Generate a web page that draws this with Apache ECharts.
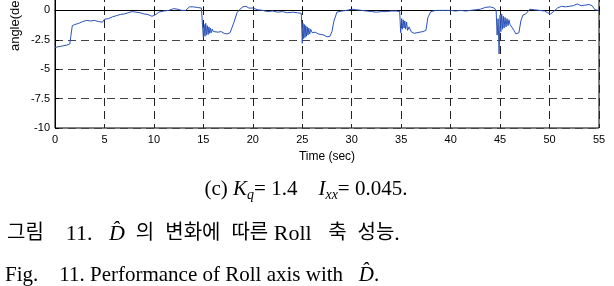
<!DOCTYPE html>
<html>
<head>
<meta charset="utf-8">
<script src="https://cdn.jsdelivr.net/npm/echarts@6/dist/echarts.min.js"></script>
<style>
  html, body { margin: 0; padding: 0; background: #fff; }
  #chart { width: 614px; height: 286px; }
</style>
</head>
<body>
<div id="chart"></div>
<script>
// roll angle response
const timeSec = [
  0, 0.3, 0.6, 0.9, 1.2, 1.5, 1.6, 1.75, 2.0, 2.4, 2.8, 3.2, 3.6, 4.0, 4.4, 4.8,
  5.0, 5.4, 5.8, 6.2, 6.6, 7.0, 7.4, 7.8, 8.2, 8.6, 9.0, 9.4, 9.8, 10.1, 10.5,
  11.0, 11.5, 12.0, 12.4, 12.8, 13.2, 13.6, 14.0, 14.4, 14.8, 14.95,
  15.0, 15.08, 15.16, 15.24, 15.32, 15.4, 15.48, 15.56, 15.64, 15.72, 15.8, 15.9,
  16.0, 16.2, 16.5, 16.8, 17.1, 17.4, 17.7, 17.9, 18.1, 18.4, 18.7, 19.0, 19.3,
  19.6, 20.0, 20.5, 21.0, 21.5, 22.0, 22.5, 23.0, 23.5, 24.0, 24.5, 24.9,
  25.0, 25.07, 25.14, 25.21, 25.28, 25.35, 25.42, 25.5, 25.58, 25.66, 25.75, 25.85,
  26.0, 26.3, 26.6, 26.9, 27.2, 27.5, 27.8, 28.0, 28.2, 28.5, 29.0, 29.5, 30.0,
  30.5, 31.0, 31.5, 32.0, 32.5, 33.0, 33.5, 34.0, 34.5, 34.85,
  34.95, 35.05, 35.13, 35.21, 35.29, 35.37, 35.45, 35.55, 35.65, 35.8, 36.0, 36.3,
  36.6, 36.9, 37.2, 37.5, 37.7, 38.0, 38.5, 39.0, 39.5, 40.0, 40.5, 41.0, 41.5,
  42.0, 42.5, 43.0, 43.5, 44.0, 44.4, 44.6,
  44.7, 44.8, 44.9, 45.0, 45.08, 45.16, 45.24, 45.32, 45.4, 45.5, 45.6, 45.7, 45.8,
  45.9, 46.0, 46.2, 46.4, 46.6, 46.9, 47.1, 47.3, 47.6, 48.0, 48.5, 49.0, 49.5,
  49.8, 50.1, 50.4, 50.8, 51.2, 51.6, 52.0, 52.4, 52.8, 53.2, 53.6, 54.0, 54.3,
  54.6, 55
];
const rollAngle = [
  -3.15, -3.1, -3.05, -3.0, -2.95, -2.85, -2.2, -1.3, -1.2, -1.1, -0.95, -0.85, -0.9, -0.85, -0.95, -1.0,
  -0.75, -0.7, -0.55, -0.45, -0.35, -0.3, -0.2, -0.1, -0.15, -0.2, -0.3, -0.35, -0.5, -0.4, -0.15,
  -0.05, 0.0, 0.15, 0.1, 0.0, 0.0, 0.3, 0.3, 0.25, 0.2, 0.15,
  -2.3, -1.2, -2.2, -1.1, -2.1, -1.3, -2.05, -1.4, -1.95, -1.5, -1.9, -1.6,
  -1.8, -1.7, -1.85, -1.8, -1.95, -2.0, -1.9, -1.8, -1.0, -0.2, 0.1, 0.3, 0.35,
  0.2, 0.2, 0.05, 0.0, -0.1, -0.05, -0.15, -0.1, -0.2, -0.15, -0.2, -0.25,
  -2.8, -1.1, -2.4, -1.2, -2.3, -1.3, -2.2, -1.4, -2.1, -1.5, -2.0, -1.6,
  -1.9, -1.85, -2.0, -2.05, -2.1, -2.25, -2.2, -1.8, -0.9, -0.15, -0.05, 0.0, 0.1,
  0.05, 0.0, -0.05, -0.1, -0.15, -0.1, -0.1, -0.05, -0.05, -0.1,
  -1.9, -0.7, -1.6, -0.8, -1.5, -0.9, -1.6, -1.0, -1.7, -1.4, -1.8, -1.95,
  -1.9, -1.85, -1.8, -1.7, -0.6, -0.1, 0.0, 0.0, 0.0, 0.0, -0.05, 0.0, -0.05,
  0.0, 0.05, 0.1, 0.25, 0.3, 0.2, 0.0,
  -2.1, -0.7, -3.7, -0.4, -1.8, -0.3, -1.6, -0.5, -1.5, -0.6, -1.4, -0.7, -1.3,
  -0.8, -1.2, -1.1, -1.7, -2.0, -1.9, -0.9, -0.4, -0.3, 0.1, 0.05, 0.0, -0.05,
  -0.2, -0.3, -0.1, 0.2, 0.35, 0.3, 0.35, 0.4, 0.55, 0.4, 0.45, 0.5, 0.4,
  0.05, 0.0
];
const xTicks = { min: 0, max: 55, step: 5 };
const yTicks = { min: -10, max: 2.5, step: 2.5 };

const serif = '"Liberation Serif", "Times New Roman", "Noto Sans CJK KR", serif';
const sans = '"Liberation Sans", Arial, sans-serif';

const chart = echarts.init(document.getElementById('chart'));
chart.setOption({
  animation: false,
  backgroundColor: '#fff',
  grid: {
    left: 55, right: 15, top: -19, bottom: 158,
    outerBoundsMode: 'none',
    show: true, borderColor: '#000', borderWidth: 1
  },
  xAxis: {
    type: 'value',
    min: xTicks.min, max: xTicks.max, interval: xTicks.step,
    name: 'Time (sec)', nameLocation: 'middle', nameGap: 23,
    nameTextStyle: { fontFamily: sans, fontSize: 12, color: '#000' },
    axisLine: { lineStyle: { color: '#000', width: 1 } },
    axisTick: { inside: true, length: 4, lineStyle: { color: '#000' } },
    axisLabel: { fontFamily: sans, fontSize: 11, color: '#000', margin: 6 },
    splitLine: { show: true, lineStyle: { color: '#222', type: [8, 5], width: 1 } }
  },
  yAxis: {
    type: 'value',
    min: yTicks.min, max: yTicks.max, interval: yTicks.step,
    axisLine: { show: true, lineStyle: { color: '#000', width: 1 } },
    axisTick: { show: true, inside: true, length: 4, lineStyle: { color: '#000' } },
    axisLabel: { fontFamily: sans, fontSize: 11, color: '#000', margin: 5 },
    splitLine: { show: true, lineStyle: { color: '#444', type: [8, 5], width: 1 } }
  },
  series: [{
    type: 'line',
    data: timeSec.map((t, i) => [t, rollAngle[i]]),
    showSymbol: false,
    lineStyle: { color: '#2b52b5', width: 1 }
  }],
  graphic: [
    {
      type: 'text', x: 15, y: 20, rotation: Math.PI / 2,
      style: { text: 'angle(deg)', font: '13px ' + sans, fill: '#000', align: 'center', verticalAlign: 'middle' }
    },
    {
      type: 'text', x: 306, y: 189,
      style: {
        text: '{n|(c) }{i|K}{s|q}{n|= 1.4    }{i|I}{s|xx}{n|= 0.045.}',
        align: 'center', verticalAlign: 'middle', fill: '#000',
        rich: {
          n: { fontFamily: serif, fontSize: 21, lineHeight: 26 },
          i: { fontFamily: serif, fontSize: 21, fontStyle: 'italic', lineHeight: 26 },
          s: { fontFamily: serif, fontSize: 14, fontStyle: 'italic', lineHeight: 14, verticalAlign: 'bottom' }
        }
      }
    },
    {
      type: 'text', x: 7, y: 234,
      style: {
        text: '{k|그림}{l|    11.   }{i|D\u0302}{l|  }{k|의}{l|  }{k|변화에}{l|  }{k|따른}{l| Roll   }{k|축}{l|  }{k|성능}{l|.}',
        align: 'left', verticalAlign: 'middle', fill: '#000',
        rich: {
          k: { fontFamily: serif, fontSize: 20, lineHeight: 26 },
          l: { fontFamily: serif, fontSize: 22, lineHeight: 26 },
          i: { fontFamily: serif, fontSize: 22, fontStyle: 'italic', lineHeight: 26 }
        }
      }
    },
    {
      type: 'text', x: 5, y: 275,
      style: {
        text: '{n|Fig.    11. Performance of Roll axis with   }{i|D\u0302}{n|.}',
        align: 'left', verticalAlign: 'middle', fill: '#000',
        rich: {
          n: { fontFamily: serif, fontSize: 21, lineHeight: 26 },
          i: { fontFamily: serif, fontSize: 21, fontStyle: 'italic', lineHeight: 26 }
        }
      }
    }
  ]
});
</script>
</body>
</html>
